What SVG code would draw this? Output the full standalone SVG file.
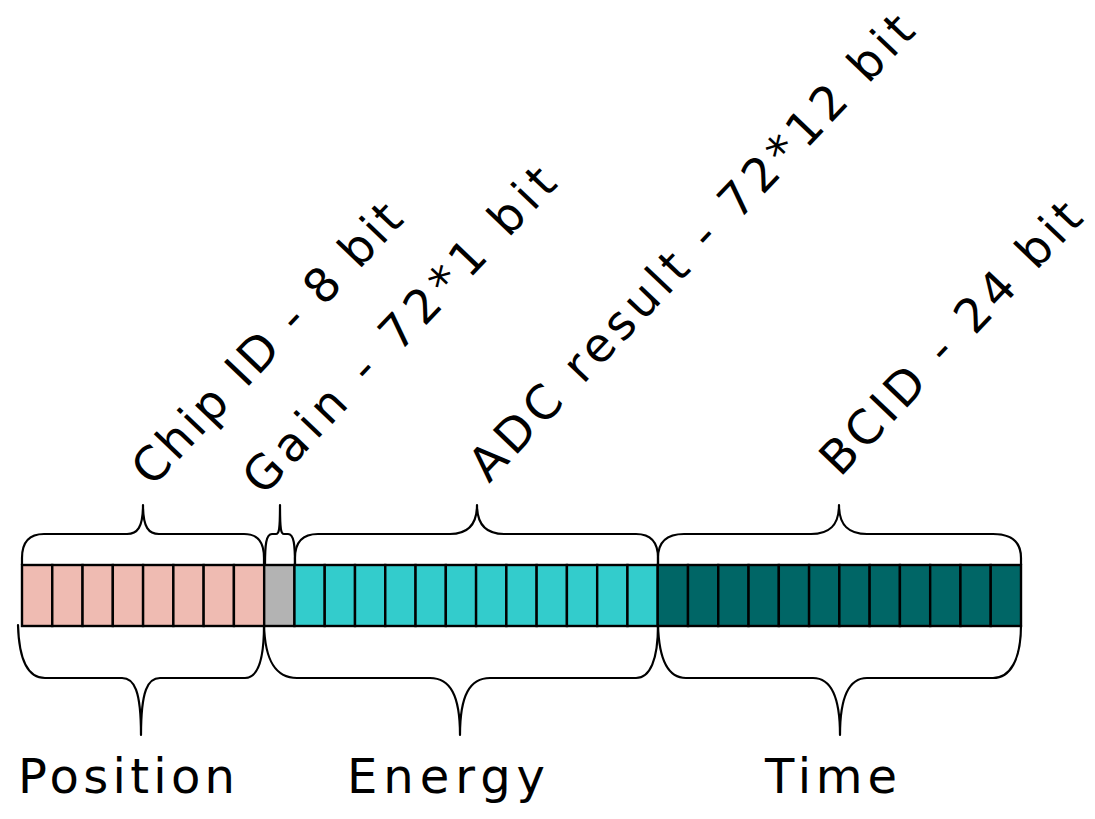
<svg xmlns="http://www.w3.org/2000/svg" width="1095" height="819" viewBox="0 0 1095 819">
<style>
.cell{stroke:#000;stroke-width:2.4}
.pos{fill:#EFBBB2}
.gain{fill:#B3B3B3}
.adc{fill:#33CCCC}
.bcid{fill:#006666}
.brace{fill:none;stroke:#000;stroke-width:2.2;stroke-linecap:round;stroke-linejoin:round}
.lbl{font-family:"DejaVu Sans","Liberation Sans",sans-serif;font-size:47px;fill:#000}
.big{font-family:"DejaVu Sans","Liberation Sans",sans-serif;font-size:48px;fill:#000}
</style>
<rect width="1095" height="819" fill="#fff"/>
<g id="chipid">
<rect class="cell pos" x="22" y="565" width="30.27" height="61"/>
<rect class="cell pos" x="52.27" y="565" width="30.27" height="61"/>
<rect class="cell pos" x="82.55" y="565" width="30.27" height="61"/>
<rect class="cell pos" x="112.82" y="565" width="30.27" height="61"/>
<rect class="cell pos" x="143.09" y="565" width="30.27" height="61"/>
<rect class="cell pos" x="173.36" y="565" width="30.27" height="61"/>
<rect class="cell pos" x="203.64" y="565" width="30.27" height="61"/>
<rect class="cell pos" x="233.91" y="565" width="30.27" height="61"/>
</g>
<g id="gain">
<rect class="cell gain" x="264.18" y="565" width="30.27" height="61"/>
</g>
<g id="adc">
<rect class="cell adc" x="294.45" y="565" width="30.27" height="61"/>
<rect class="cell adc" x="324.73" y="565" width="30.27" height="61"/>
<rect class="cell adc" x="355" y="565" width="30.27" height="61"/>
<rect class="cell adc" x="385.27" y="565" width="30.27" height="61"/>
<rect class="cell adc" x="415.55" y="565" width="30.27" height="61"/>
<rect class="cell adc" x="445.82" y="565" width="30.27" height="61"/>
<rect class="cell adc" x="476.09" y="565" width="30.27" height="61"/>
<rect class="cell adc" x="506.36" y="565" width="30.27" height="61"/>
<rect class="cell adc" x="536.64" y="565" width="30.27" height="61"/>
<rect class="cell adc" x="566.91" y="565" width="30.27" height="61"/>
<rect class="cell adc" x="597.18" y="565" width="30.27" height="61"/>
<rect class="cell adc" x="627.45" y="565" width="30.27" height="61"/>
</g>
<g id="bcid">
<rect class="cell bcid" x="657.73" y="565" width="30.27" height="61"/>
<rect class="cell bcid" x="688" y="565" width="30.27" height="61"/>
<rect class="cell bcid" x="718.27" y="565" width="30.27" height="61"/>
<rect class="cell bcid" x="748.55" y="565" width="30.27" height="61"/>
<rect class="cell bcid" x="778.82" y="565" width="30.27" height="61"/>
<rect class="cell bcid" x="809.09" y="565" width="30.27" height="61"/>
<rect class="cell bcid" x="839.36" y="565" width="30.27" height="61"/>
<rect class="cell bcid" x="869.64" y="565" width="30.27" height="61"/>
<rect class="cell bcid" x="899.91" y="565" width="30.27" height="61"/>
<rect class="cell bcid" x="930.18" y="565" width="30.27" height="61"/>
<rect class="cell bcid" x="960.45" y="565" width="30.27" height="61"/>
<rect class="cell bcid" x="990.73" y="565" width="30.27" height="61"/>
</g>
<g id="connectors">
<path class="brace" d="M22,565 L22,558 C22,542 29,534 44,534 L127,534 C137,534 143,528 143,505 C143,528 149,534 159,534 L244,534 C258,534 264,542 264,558 L264,565"/>
<path class="brace" d="M265,565 C265,545 266,534 272,534 L276,534 C279,534 280,530 280,505 C280,530 281,534 284,534 L288,534 C294,534 295,545 295,565"/>
<path class="brace" d="M295,565 L295,558 C295,542 302,534 318,534 L450,534 C468,534 477,525 477,505 C477,525 486,534 504,534 L636,534 C651,534 658,542 658,558 L658,565"/>
<path class="brace" d="M658,565 L658,558 C658,542 667,534 684,534 L811,534 C830,534 839,525 839,505 C839,525 848,534 867,534 L993,534 C1012,534 1021,542 1021,558 L1021,565"/>
<path class="brace" d="M18,625 C19,660 28,678 45,678 L122,678 C134,678 141,690 141,735 C141,690 148,678 160,678 L245,678 C258,678 264,660 264,625"/>
<path class="brace" d="M264,625 C265,660 275,678 297,678 L430,678 C450,678 460,695 460,735 C460,695 470,678 490,678 L636,678 C650,678 658,660 658,625"/>
<path class="brace" d="M658,625 C659,660 668,678 686,678 L813,678 C830,678 840,695 840,735 C840,695 850,678 867,678 L993,678 C1010,678 1021,660 1021,625"/>
</g>
<g id="label-chipid"><text class="lbl" transform="translate(152,488) rotate(-46.5)" textLength="368" lengthAdjust="spacing">Chip ID - 8 bit</text></g>
<g id="label-gain"><text class="lbl" transform="translate(263,497) rotate(-46.5)" textLength="430" lengthAdjust="spacing">Gain - 72*1 bit</text></g>
<g id="label-adc"><text class="lbl" transform="translate(489,484) rotate(-46.5)" textLength="622" lengthAdjust="spacing">ADC result - 72*12 bit</text></g>
<g id="label-bcid"><text class="lbl" transform="translate(840,478) rotate(-46.5)" textLength="356" lengthAdjust="spacing">BCID - 24 bit</text></g>
<g id="label-position"><text class="big" x="18" y="793" textLength="217" lengthAdjust="spacing">Position</text></g>
<g id="label-energy"><text class="big" x="347" y="793" textLength="198" lengthAdjust="spacing">Energy</text></g>
<g id="label-time"><text class="big" x="765" y="793" textLength="132" lengthAdjust="spacing">Time</text></g>
</svg>
